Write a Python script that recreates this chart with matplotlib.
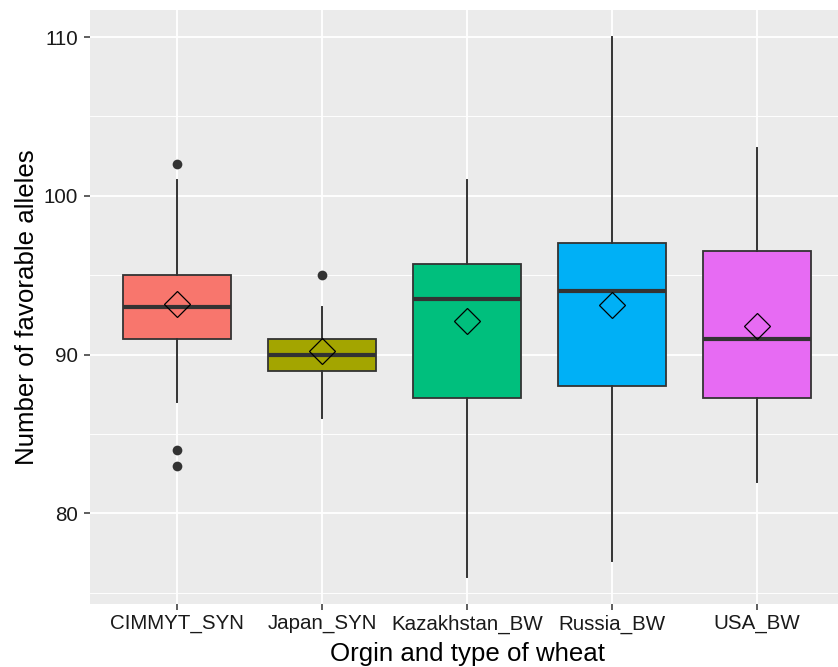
import matplotlib
matplotlib.use("Agg")
import matplotlib.pyplot as plt
from matplotlib.ticker import MultipleLocator

plt.rcParams['font.family'] = ['Liberation Sans', 'DejaVu Sans']

# Values
groups = ["CIMMYT_SYN", "Japan_SYN", "Kazakhstan_BW", "Russia_BW", "USA_BW"]
whislo = [87, 86, 76, 77, 82]
q1 = [91, 89, 87.3, 88, 87.3]
med = [93, 90, 93.5, 94, 91]
q3 = [95, 91, 95.7, 97, 96.5]
whishi = [101, 93, 101, 110, 103]
means = [93.2, 90.2, 92.15, 93.1, 91.8]
fliers = [[102, 84, 83], [95], [], [], []]
fills = ["#F8766D", "#A3A500", "#00BF7D", "#00B0F6", "#E76BF3"]

dark = "#333333"

stats = []
for i, name in enumerate(groups):
    stats.append({
        "label": name,
        "whislo": whislo[i], "q1": q1[i], "med": med[i],
        "q3": q3[i], "whishi": whishi[i],
        "mean": means[i], "fliers": fliers[i],
    })

fig = plt.figure(figsize=(8.38, 6.67), dpi=100)
fig.set_facecolor("white")
ax = fig.add_axes([90 / 838, 63 / 667, 754 / 838, 594 / 667])
ax.set_facecolor("#EBEBEB")

positions = list(range(1, len(groups) + 1))
bp = ax.bxp(
    stats, positions=positions, widths=0.75, patch_artist=True,
    showcaps=False, showmeans=True, showfliers=True,
    boxprops=dict(edgecolor=dark, linewidth=1.3),
    whiskerprops=dict(color=dark, linewidth=1.4),
    medianprops=dict(color=dark, linewidth=3.0),
    flierprops=dict(marker="o", markersize=7, markerfacecolor=dark,
                    markeredgecolor="none"),
    meanprops=dict(marker="D", markersize=13.5, markerfacecolor="none",
                   markeredgecolor="black", markeredgewidth=0.9),
)
for patch, c in zip(bp["boxes"], fills):
    patch.set_facecolor(c)
for m in bp["means"]:
    m.set_zorder(5)

ax.set_xlim(0.4, 5.6)
ax.set_ylim(74.3, 111.7)
ax.set_xticks(positions)
ax.set_xticklabels(groups)
ax.yaxis.set_major_locator(MultipleLocator(10))
ax.yaxis.set_minor_locator(MultipleLocator(5))

ax.set_axisbelow(True)
ax.grid(which="major", color="white", linewidth=1.3)
ax.grid(which="minor", axis="y", color="white", linewidth=0.65)
for s in ax.spines.values():
    s.set_visible(False)

ax.tick_params(axis="both", which="major", length=4.5, width=1.1,
               color=dark, labelsize=14.8, labelcolor="#1a1a1a", pad=3)
ax.tick_params(axis="y", which="major", pad=4)
ax.tick_params(axis="both", which="minor", length=0)

ax.set_xlabel("Orgin and type of wheat", fontsize=18.6, color="black")
ax.set_ylabel("Number of favorable alleles", fontsize=18.6, color="black")
ax.xaxis.set_label_coords(0.5, -0.0635)
ax.yaxis.set_label_coords(-0.068, 0.5)

fig.savefig("out.png", dpi=100, facecolor=fig.get_facecolor())
